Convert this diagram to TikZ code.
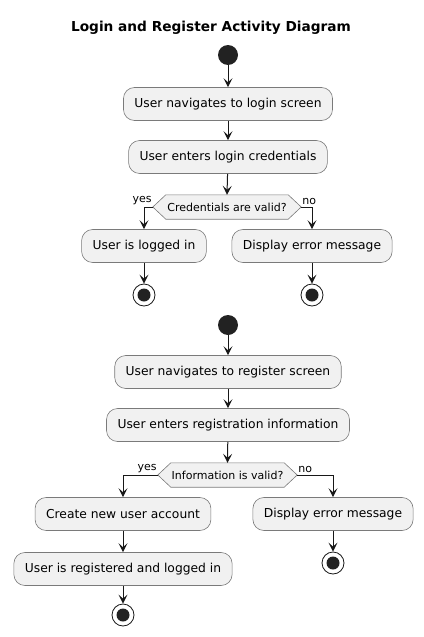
\documentclass[tikz,border=0pt]{standalone}
\usepackage{fontspec}
\setmainfont{DejaVu Sans}
\usetikzlibrary{arrows.meta}
\definecolor{boxfill}{HTML}{F1F1F1}
\definecolor{boxline}{HTML}{7A7A7A}
\definecolor{ink}{HTML}{181818}
\definecolor{dot}{HTML}{222222}
\tikzset{
  x=1pt, y=-1pt,
  actbox/.style={draw=boxline, line width=0.6pt, fill=boxfill, rounded corners=11pt,
    minimum height=33pt, inner xsep=11pt, font=\fontsize{12.3}{14}\selectfont},
  decnode/.style={minimum height=24pt, inner sep=0pt, font=\fontsize{11}{12}\selectfont},
  hexa/.style={draw=boxline, line width=0.6pt, fill=boxfill},
  arr/.style={draw=ink, line width=1pt, -{Stealth[length=9pt,width=9pt,inset=4pt]}},
  startdot/.style={circle, fill=dot, minimum size=20pt, inner sep=0pt},
  stopdot/.style={circle, draw=ink, line width=0.8pt, fill=white, minimum size=22pt, inner sep=0pt,
    path picture={\fill[dot] (path picture bounding box.center) circle (6.5pt);}},
  lbl/.style={font=\fontsize{11}{12}\selectfont, inner sep=1pt}
}
\begin{document}
\begin{tikzpicture}
\useasboundingbox (0,0) rectangle (423,637);
\node[font=\bfseries\fontsize{13.7}{16}\selectfont] (title) at (211,28) {Login and Register Activity Diagram};

% first flow
\node[startdot] (s1) at (228,55) {};
\node[actbox] (b1) at (228,104) {User navigates to login screen};
\node[actbox] (b2) at (228,157) {User enters login credentials};
\node[decnode, minimum width=148pt] (d1) at (227,207) {Credentials are valid?};
\draw[hexa] (d1.west) -- ([xshift=13]d1.north west) -- ([xshift=-13]d1.north east) -- (d1.east)
  -- ([xshift=-13]d1.south east) -- ([xshift=13]d1.south west) -- cycle;
\node at (d1) [decnode] {Credentials are valid?};
\node[actbox] (b3) at (144,246) {User is logged in};
\node[actbox] (b4) at (312,246) {Display error message};
\node[stopdot] (e1) at (144,295) {};
\node[stopdot] (e2) at (312,295) {};
\node[lbl, anchor=south east] (y1) at ([yshift=1]d1.west) {yes};
\node[lbl, anchor=south west] (n1) at ([yshift=1]d1.east) {no};

\draw[arr] (s1) -- (b1);
\draw[arr] (b1) -- (b2);
\draw[arr] (b2) -- (d1.north);
\draw[arr] (d1.west) -| (b3.north);
\draw[arr] (d1.east) -| (b4.north);
\draw[arr] (b3) -- (e1);
\draw[arr] (b4) -- (e2);

% second flow
\node[startdot] (s2) at (228,325) {};
\node[actbox] (c1) at (228,372) {User navigates to register screen};
\node[actbox] (c2) at (228,425) {User enters registration information};
\node[decnode, minimum width=139pt] (d2) at (227.5,475) {Information is valid?};
\draw[hexa] (d2.west) -- ([xshift=13]d2.north west) -- ([xshift=-13]d2.north east) -- (d2.east)
  -- ([xshift=-13]d2.south east) -- ([xshift=13]d2.south west) -- cycle;
\node at (d2) [decnode] {Information is valid?};
\node[actbox] (c3) at (123,514) {Create new user account};
\node[actbox] (c4) at (123,569) {User is registered and logged in};
\node[actbox] (c5) at (333,514) {Display error message};
\node[stopdot] (e3) at (123,615) {};
\node[stopdot] (e4) at (333,563) {};
\node[lbl, anchor=south east] (y2) at ([yshift=1]d2.west) {yes};
\node[lbl, anchor=south west] (n2) at ([yshift=1]d2.east) {no};

\draw[arr] (s2) -- (c1);
\draw[arr] (c1) -- (c2);
\draw[arr] (c2) -- (d2.north);
\draw[arr] (d2.west) -| (c3.north);
\draw[arr] (d2.east) -| (c5.north);
\draw[arr] (c3) -- (c4);
\draw[arr] (c4) -- (e3);
\draw[arr] (c5) -- (e4);
\end{tikzpicture}
\end{document}
